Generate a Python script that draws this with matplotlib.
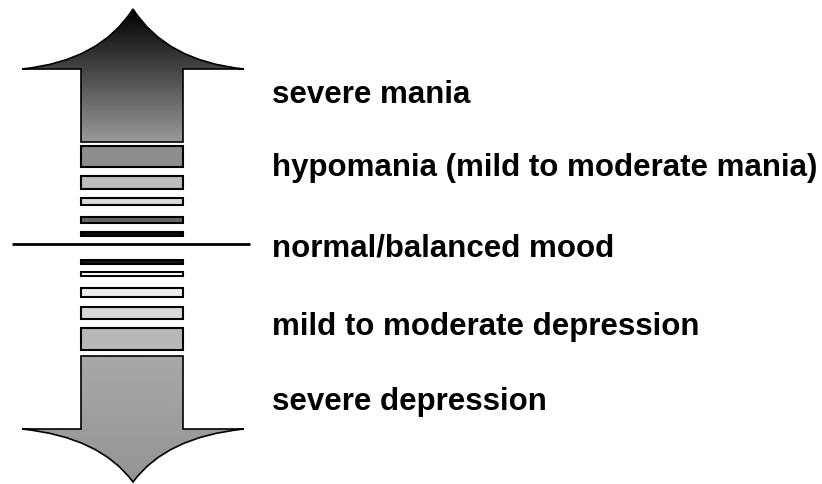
import numpy as np
import matplotlib.pyplot as plt
from matplotlib.path import Path
from matplotlib.patches import PathPatch, Rectangle

# labels from top to bottom of the mood scale
labels = ["severe mania", "hypomania (mild to moderate mania)", "normal/balanced mood",
          "mild to moderate depression", "severe depression"]
label_baseline = [103, 176, 257, 335, 410]

# stripe bands above and below the middle line (top, bottom, gray fill)
upper_bands = [(147, 168, 0.55), (177, 190, 0.74), (199, 206, 0.86), (218, 224, 0.4), (233, 237, 0.05)]
lower_bands = [(261, 265, 0.1), (273, 277, 1.0), (289, 298, 0.93), (308, 320, 0.85), (329, 351, 0.72)]

W, H = 822, 485
fig = plt.figure(figsize=(W / 100, H / 100), dpi=100)
ax = fig.add_axes([0, 0, 1, 1])
ax.set_xlim(0, W)
ax.set_ylim(H, 0)
ax.axis('off')

cx, sx0, sx1 = 133, 81, 183


def arrow_path(tip_y, base_y, shaft_end, up=True):
    d = -1 if up else 1
    verts = [(sx0, shaft_end), (sx0, base_y), (22, base_y),
             (100, base_y + d * 8), (cx, tip_y),
             (166, base_y + d * 8), (244, base_y),
             (sx1, base_y), (sx1, shaft_end), (sx0, shaft_end)]
    codes = [Path.MOVETO, Path.LINETO, Path.LINETO, Path.CURVE3, Path.CURVE3,
             Path.CURVE3, Path.CURVE3, Path.LINETO, Path.LINETO, Path.CLOSEPOLY]
    return Path(verts, codes)


# upper arrow: dark at the tip fading to mid gray
p_up = arrow_path(10, 70, 143, up=True)
patch = PathPatch(p_up, facecolor='none', edgecolor='black', lw=1.2, zorder=3)
ax.add_patch(patch)
grad = np.linspace(0.0, 0.6, 256).reshape(-1, 1)
im = ax.imshow(grad, cmap='gray', vmin=0, vmax=1, extent=[20, 246, 143, 10],
               aspect='auto', zorder=2)
im.set_clip_path(patch)

# lower arrow: mid gray
p_dn = arrow_path(483, 430, 357, up=False)
patch2 = PathPatch(p_dn, facecolor='none', edgecolor='black', lw=1.2, zorder=3)
ax.add_patch(patch2)
grad2 = np.linspace(0.66, 0.58, 256).reshape(-1, 1)
im2 = ax.imshow(grad2, cmap='gray', vmin=0, vmax=1, extent=[20, 246, 483, 357],
                aspect='auto', zorder=2)
im2.set_clip_path(patch2)

for y0, y1, g in upper_bands + lower_bands:
    ax.add_patch(Rectangle((sx0, y0), sx1 - sx0, y1 - y0, facecolor=str(g),
                           edgecolor='black', lw=1.5, zorder=3))

# middle line
ax.plot([12, 250], [245, 245], color='black', lw=2, solid_capstyle='butt')

for lab, y in zip(labels, label_baseline):
    ax.text(272, y, lab, fontsize=22.5, fontweight='bold', va='baseline', ha='left',
            family='Liberation Sans', color='black')

fig.savefig('out.png', dpi=100)
